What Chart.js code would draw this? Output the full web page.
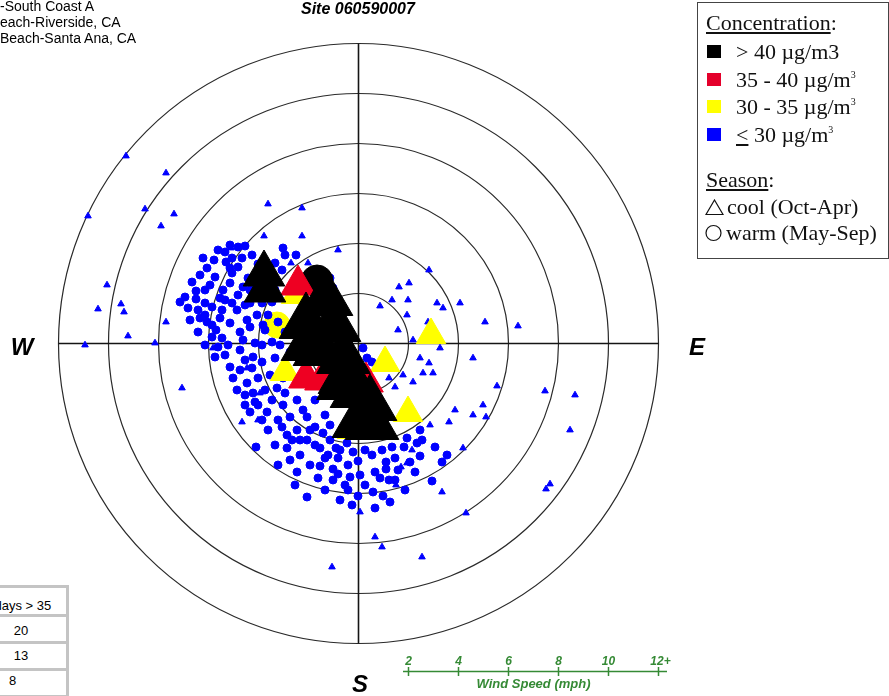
<!DOCTYPE html>
<html>
<head>
<meta charset="utf-8">
<script src="https://cdn.jsdelivr.net/npm/chart.js@4.4.1/dist/chart.umd.min.js"></script>
<style>
  body { margin:0; background:#fff; width:889px; height:696px; overflow:hidden; position:relative; font-family:"Liberation Sans", Arial, sans-serif; }
  #rose { position:absolute; left:0; top:0; }
  .t { position:absolute; white-space:nowrap; line-height:1; }
  .lg { font-family:"Liberation Serif", "Times New Roman", serif; font-size:22px; color:#111; }
  .sq { position:absolute; width:14px; height:13px; }
  sup { font-size:10px; vertical-align:9px; line-height:0; }
  #legendBox { position:absolute; left:697px; top:2px; width:192px; height:257px; box-sizing:border-box; border:1.5px solid #444; }
  .cell { position:absolute; left:-10px; width:76px; background:#fff; }
</style>
</head>
<body>
<canvas id="rose" width="889" height="696"></canvas>

<div class="t" style="left:0;top:-1.5px;font-size:14px">-South Coast A</div>
<div class="t" style="left:0;top:14.5px;font-size:14px">each-Riverside, CA</div>
<div class="t" style="left:0;top:30.5px;font-size:14px">Beach-Santa Ana, CA</div>
<div class="t" style="left:301px;top:0.5px;font-size:16px;font-weight:bold;font-style:italic">Site 060590007</div>

<div id="legendBox"></div>
<div class="t lg" style="left:706px;top:12px"><span style="text-decoration:underline">Concentration</span>:</div>
<div class="sq" style="left:707px;top:45px;background:#000"></div>
<div class="sq" style="left:707px;top:73px;background:#e4002b"></div>
<div class="sq" style="left:707px;top:100px;background:#ffff00"></div>
<div class="sq" style="left:707px;top:128px;background:#0000ff"></div>
<div class="t lg" style="left:736px;top:41px">&gt; 40 µg/m3</div>
<div class="t lg" style="left:736px;top:69px">35 - 40 µg/m<sup>3</sup></div>
<div class="t lg" style="left:736px;top:96px">30 - 35 µg/m<sup>3</sup></div>
<div class="t lg" style="left:736px;top:124px"><u>&lt;</u> 30 µg/m<sup>3</sup></div>
<div class="t lg" style="left:706px;top:169px"><span style="text-decoration:underline">Season</span>:</div>
<svg style="position:absolute;left:705px;top:199px" width="19" height="17"><polygon points="9.5,1 18,15.5 1,15.5" fill="none" stroke="#111" stroke-width="1.2"/></svg>
<div class="t lg" style="left:727px;top:196px">cool (Oct-Apr)</div>
<svg style="position:absolute;left:705px;top:224px" width="18" height="18"><circle cx="8.5" cy="9" r="7.5" fill="none" stroke="#111" stroke-width="1.2"/></svg>
<div class="t lg" style="left:726px;top:222px">warm (May-Sep)</div>

<div style="position:absolute;left:-10px;top:585px;width:79px;height:115px;background:#c4c4c4"></div>
<div class="cell" style="top:588px;height:26px"></div>
<div class="cell" style="top:617px;height:24px"></div>
<div class="cell" style="top:644px;height:24px"></div>
<div class="cell" style="top:671px;height:24px"></div>
<div class="t" id="tblHead" style="left:-5.5px;top:598.5px;font-size:13px"></div>
<div class="t" id="tblRow0" style="left:0;width:42px;text-align:center;top:623.5px;font-size:13px"></div>
<div class="t" id="tblRow1" style="left:0;width:42px;text-align:center;top:648.5px;font-size:13px"></div>
<div class="t" id="tblRow2" style="left:0;width:25px;text-align:center;top:673.5px;font-size:13px"></div>

<script>
// wind speed rings and scale bar (mph)
var ringSpeeds = [2, 4, 6, 8, 10, 12];
var speedTicks = [2, 4, 6, 8, 10, 12];
var speedLabels = ['2', '4', '6', '8', '10', '12+'];

// table at bottom left
var tableHeader = 'days > 35';
var daysOver35 = [20, 13, 8];

// points as [east, north] wind components in mph
// warm season (May-Sep), <= 30 ug/m3
var warmLow = [
  [-5.78,3.34],[-5.34,3.66],[-5.06,3.42],[-4.66,3.42],[-4.26,3.54],[-5.74,2.66],[-5.14,3.02],[-4.82,3.06],
  [-4.42,2.62],[-6.5,2.1],[-6.5,1.78],[-7.14,1.66],[-5.86,1.46],[-5.54,1.82],[-5.06,1.62],[-5.14,2.42],
  [-5.42,2.14],[-4.62,2.26],[-4.86,1.34],[-6.14,1.14],[-6.06,0.86],[-5.14,0.82],[-4.46,0.94],[-5.06,2.82],
  [-6.14,2.14],[-4.34,1.62],[-4.06,1.14],[-3.62,1.14],[-3.74,0.54],[-4.34,0.66],[-4.74,0.46],[-5.46,0.22],
  [-5.86,0.26],[-5.62,-0.14],[-5.74,-0.54],[-5.14,-0.94],[-4.74,-1.06],[-5.02,-1.38],[-4.22,-0.54],[-4.86,-1.86],
  [-3.26,-1.78],[-3.46,-2.26],[-3.02,-2.46],[-2.46,-2.26],[-3.66,-2.74],[-2.74,-2.94],[-2.22,-2.66],[-3.06,-3.34],
  [-2.46,-3.46],[-1.94,-3.46],[-1.42,-3.58],[-3.62,-3.46],[-4.22,-1.98],[-4.46,-1.58],[0.18,-0.18],[0.34,-0.58],
  [-1.14,2.62],[1.94,-3.78],[2.34,-3.98],[-2.06,-2.94],[-1.74,-3.34],[-2.06,-3.86],[-1.14,-3.86],[-0.74,-4.26],
  [-0.46,-3.98],[-0.22,-4.34],[0.26,-4.26],[0.54,-4.46],[0.94,-4.26],[1.34,-4.14],[2.54,-3.86],[3.06,-4.14],
  [3.54,-4.46],[2.46,-4.5],[2.06,-4.74],[1.1,-4.74],[1.1,-5.02],[0.66,-5.14],[0.86,-5.38],[1.22,-5.46],
  [2.94,-5.5],[-0.42,-5.86],[-0.02,-6.1],[0.58,-5.94],[0.98,-6.1],[1.26,-6.34],[0.66,-6.58],[-0.54,-5.66],
  [-1.02,-5.46],[-0.82,-5.22],[-0.34,-5.34],[-1.02,-5.02],[-0.42,-4.86],[-0.02,-4.7],[-1.94,-4.86],[-1.54,-4.9],
  [-2.06,-6.14],[-2.46,-5.14],[-3.86,-3.06],[-4.34,-2.74],[-3.34,-4.06],[-2.86,-4.18],[-2.34,-4.46],[-1.54,-4.18],
  [-6.94,1.86],[-6.74,0.94],[-6.42,0.46],[-6.14,-0.06],[-5.34,-0.46],[-4.74,-0.26],[-4.14,0.02],[-3.86,-0.74],
  [-4.54,-0.66],[-3.54,-1.26],[-4.02,-1.38],[-3.34,-0.58],[-2.94,-1.98],[-5.14,3.94],[-4.54,3.9],[-4.02,3.18],
  [-4.34,2.14],[-3.86,1.62],[-3.46,1.66],[-3.22,0.86],[-2.94,0.46],[-3.46,0.06],[-2.74,-0.34],[-2.34,-0.26],
  [-5.54,1.02],[-6.42,1.34],[-6.82,1.42],[-5.94,2.34],[-6.34,2.74],[-5.3,3.26],[-5.62,3.74],[-2.94,3.54],
  [-3.06,2.94],[-1.02,2.22],[0.54,-0.74],[-4.1,-4.14],[-2.54,-5.66],[-1.62,-5.38],[-1.34,-4.58],[-2.34,-3.86],
  [-2.86,-3.66],[-0.74,-6.26],[0.26,-5.66],[1.58,-5.06],[0.06,-5.26],[1.82,-4.14],[1.46,-4.58],[-0.82,-4.58],
  [-1.22,-4.46],[-6.66,2.46],[-6.06,3.02],[-3.34,2.14],[-3.14,-0.06],[-3.82,0.74],[-4.62,0.14],[-5.22,-0.06],
  [-4.54,1.54],[-4.82,1.94],[-5.7,0.54],[-6.14,1.62],[-3.74,-1.86],[-4.14,-2.34],[-4.54,-2.46],[-1.74,-2.26],
  [-1.34,-2.86],[-2.74,-4.66],[-3.22,-4.86],[2.46,-3.46],[-5.46,1.34],[-4.26,-0.98],
  [-4.54,-2.06],[-4.02,-2.46],[-3.22,-3.06],[-2.66,-3.86],[-1.74,-4.06],[-1.14,-3.26],[-0.9,-4.18],[-3.02,-1.38],
  [-3.86,-0.06],[-6.34,1.02],[-5.86,0.74],[-5.34,1.74],[-4.14,2.34],[-3.02,3.82],[-2.5,3.54],[-3.34,3.22],
  [-6.22,3.42],[-4.82,3.86],[1.46,-5.46],[1.86,-5.86],[-0.26,-6.46],[-1.34,-5.86],[2.26,-5.14],[3.34,-4.74]
];
// cool season (Oct-Apr), <= 30 ug/m3
var coolLow = [
  [-9.3,7.5],[-10.82,5.1],[-7.7,6.82],[-8.54,5.38],[-7.38,5.18],[-7.9,4.7],[-10.06,2.34],[-10.42,1.38],
  [-9.5,1.58],[-9.38,1.26],[-7.7,0.86],[-10.94,-0.06],[-9.22,0.3],[-8.14,0.02],[-5.1,3.82],[-3.78,4.3],
  [-2.26,4.3],[-2.7,3.22],[-2.02,3.22],[-0.82,3.74],[2.82,2.94],[1.62,2.26],[2.02,2.42],[1.34,1.74],
  [1.98,1.74],[3.38,1.42],[1.94,1.14],[0.86,1.5],[2.18,0.14],[2.82,-0.78],[3.26,-0.18],[2.46,-0.58],
  [2.58,-1.18],[2.18,-1.54],[1.78,-1.26],[1.22,-1.38],[1.46,-1.74],[2.98,-1.18],[-3.94,-1.98],[-4.46,-0.98],
  [-5.82,-0.18],[-4.66,-3.14],[-4.02,-3.06],[-3.62,5.58],[-2.26,5.42],[4.06,1.62],[5.06,0.86],[6.38,0.7],
  [4.58,-0.58],[5.54,-1.7],[7.46,-1.9],[8.66,-2.06],[8.46,-3.46],[7.66,-5.62],[7.5,-5.82],[3.86,-2.66],
  [4.98,-2.46],[2.86,-3.26],[3.62,-3.14],[4.58,-2.86],[5.1,-2.94],[4.18,-4.18],[2.14,-4.26],[1.7,-4.94],
  [1.94,-4.78],[1.5,-5.66],[3.34,-5.94],[4.3,-6.78],[0.06,-6.74],[0.66,-7.74],[0.94,-8.14],[2.54,-8.54],
  [-1.06,-8.94],[-7.06,-1.78],[3.14,1.62],[2.78,0.86],[1.58,0.54]
];
// cool season, 30-35
var coolMid = [[2.9,0.34],[1.06,-0.78],[1.98,-2.78],[-2.94,-1.14],[-2.5,1.94],[-0.26,-3.46]];
// cool season, 35-40
var coolHigh = [[-2.42,2.34],[-2.1,-1.38],[-1.46,-1.46],[0.3,-1.54]];
// cool season, > 40
var coolTop = [
  [-3.78,2.78],[-3.74,2.14],[-1.3,1.74],[-0.98,0.7],[-2.1,0.82],[-2.02,-0.06],[-1.54,-0.26],[-0.6,-0.58],
  [-0.54,-1.38],[-0.06,-1.94],[0.46,-2.46],[0.54,-3.22],[0.02,-3.14],[-0.6,-1.62]
];
// warm season, 30-35 and > 40
var warmMid = [[-3.26,0.74]];
var warmTop = [[-1.66,2.5]];

// marker sizes (px) for the > 40 cool triangles
var coolTopRadius = [24, 24, 31, 31, 31, 31, 31, 31, 31, 31, 31, 31, 31, 31];

document.getElementById('tblHead').textContent = tableHeader;
daysOver35.forEach(function (v, i) {
  document.getElementById('tblRow' + i).textContent = v;
});

function pts(list) {
  return list.map(function (p) { return { x: p[0], y: p[1] }; });
}

function marker(label, list, style, color, radius, order) {
  return {
    label: label,
    data: pts(list),
    pointStyle: style,
    pointRadius: radius,
    backgroundColor: color,
    borderColor: color,
    borderWidth: 1,
    clip: false,
    order: order
  };
}

var roseGrid = {
  id: 'roseGrid',
  beforeDatasetsDraw: function (chart) {
    var ctx = chart.ctx, x = chart.scales.x, y = chart.scales.y;
    var cx = x.getPixelForValue(0), cy = y.getPixelForValue(0);
    var R = ringSpeeds[ringSpeeds.length - 1];
    ctx.save();
    ctx.strokeStyle = '#2a2a2a';
    ctx.lineWidth = 1.2;
    ringSpeeds.forEach(function (s) {
      ctx.beginPath();
      ctx.arc(cx, cy, x.getPixelForValue(s) - cx, 0, Math.PI * 2);
      ctx.stroke();
    });
    ctx.strokeStyle = '#151515';
    ctx.lineWidth = 1.6;
    ctx.beginPath();
    ctx.moveTo(x.getPixelForValue(-R), cy);
    ctx.lineTo(x.getPixelForValue(R), cy);
    ctx.moveTo(cx, y.getPixelForValue(R));
    ctx.lineTo(cx, y.getPixelForValue(-R));
    ctx.stroke();
    ctx.restore();
  },
  afterDraw: function (chart) {
    var ctx = chart.ctx, x = chart.scales.x, y = chart.scales.y;
    var area = chart.chartArea;
    var cx = x.getPixelForValue(0), cy = y.getPixelForValue(0);
    ctx.save();
    // compass letters
    ctx.fillStyle = '#000';
    ctx.font = 'italic bold 24px "Liberation Sans", Arial';
    ctx.textAlign = 'center';
    ctx.textBaseline = 'alphabetic';
    ctx.fillText('W', area.left - 36.5, cy + 11.5);
    ctx.fillText('E', area.right + 38.5, cy + 11.5);
    ctx.fillText('S', cx + 1.5, area.bottom + 48.5);
    // wind speed bar
    var green = '#358a35';
    var by = area.bottom + 28;
    ctx.strokeStyle = green;
    ctx.fillStyle = green;
    ctx.lineWidth = 1.5;
    ctx.beginPath();
    ctx.moveTo(x.getPixelForValue(1.78), by);
    ctx.lineTo(x.getPixelForValue(12.34), by);
    speedTicks.forEach(function (s) {
      var px = x.getPixelForValue(s);
      ctx.moveTo(px, by - 4.5);
      ctx.lineTo(px, by + 4.5);
    });
    ctx.stroke();
    ctx.font = 'italic bold 12px "Liberation Sans", Arial';
    speedTicks.forEach(function (s, i) {
      ctx.fillText(speedLabels[i], x.getPixelForValue(s) + (i === speedTicks.length - 1 ? 2 : 0), by - 7);
    });
    ctx.font = 'italic bold 13px "Liberation Sans", Arial';
    ctx.fillText('Wind Speed (mph)', x.getPixelForValue(7), by + 16);
    ctx.restore();
  }
};

var chart = new Chart(document.getElementById('rose').getContext('2d'), {
  type: 'scatter',
  data: {
    datasets: [
      marker('> 40 cool', coolTop, 'triangle', '#000000', coolTopRadius, 1),
      marker('35 - 40 cool', coolHigh, 'triangle', '#ee0022', 20, 2),
      marker('30 - 35 cool', coolMid, 'triangle', '#ffff00', 17, 3),
      marker('> 40 warm', warmTop, 'circle', '#000000', 16, 4),
      marker('<= 30 cool', coolLow, 'triangle', '#0000ff', 3.8, 5),
      marker('<= 30 warm', warmLow, 'circle', '#0000ff', 4, 6),
      marker('30 - 35 warm', warmMid, 'circle', '#ffff00', 13, 7)
    ]
  },
  options: {
    responsive: false,
    animation: false,
    devicePixelRatio: 1,
    events: [],
    layout: { padding: { left: 58.5, right: 230.5, top: 43.5, bottom: 52.5 } },
    scales: {
      x: { type: 'linear', min: -12, max: 12, display: false },
      y: { type: 'linear', min: -12, max: 12, display: false }
    },
    plugins: {
      legend: { display: false },
      tooltip: { enabled: false }
    }
  },
  plugins: [roseGrid]
});
</script>
</body>
</html>
